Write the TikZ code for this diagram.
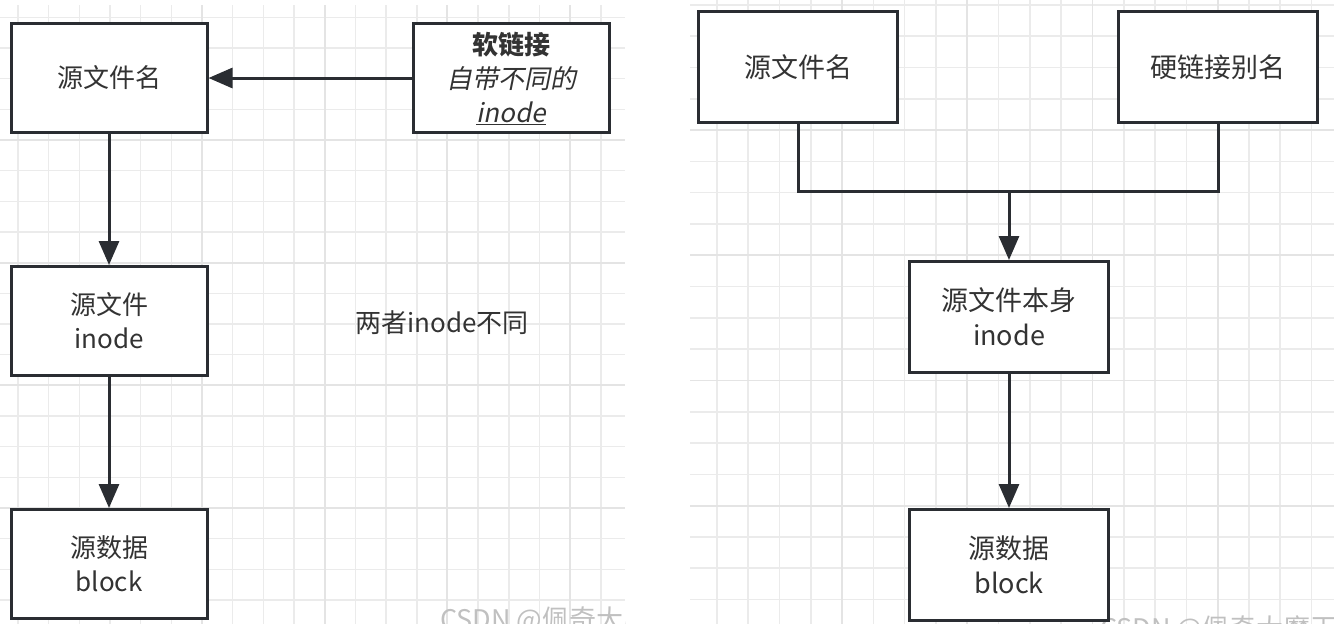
\documentclass[tikz,border=0pt]{standalone}
\usepackage{fontspec}
\usepackage{tikz}
\usetikzlibrary{positioning,arrows.meta}
\newfontfamily\cjk{Noto Sans CJK SC}
\newfontfamily\cjkit{Noto Sans CJK SC}[FakeSlant=0.2]
\definecolor{boxline}{RGB}{42,45,50}
\definecolor{txt}{RGB}{51,51,51}
\definecolor{gridminor}{RGB}{235,235,235}
\definecolor{gridmajor}{RGB}{228,228,228}
\definecolor{mark}{RGB}{192,192,192}

\begin{document}
\begin{tikzpicture}[x=1pt, y=-1pt,
    every node/.style={font=\cjk\fontsize{26}{34}\selectfont, text=txt, align=center, inner sep=0pt},
    box/.style={draw=boxline, fill=white, line width=3pt, minimum width=196pt, minimum height=109pt},
    bigbox/.style={box, minimum width=199pt, minimum height=111pt, font=\cjk\fontsize{27}{35}\selectfont},
    link/.style={draw=boxline, line width=3pt},
    arrow/.style={link, -{Triangle[length=24pt, width=20pt]}},
    wmark/.style={anchor=base west, text=mark, font=\cjk\fontsize{27}{27}\selectfont}]
    \useasboundingbox (0,0) rectangle (1334,624);

    \foreach \k [evaluate=\k as \gx using {18+\k*30.67}, evaluate=\k as \gy using {17.3+\k*30.67}] in {0,...,19} {
        \draw[gridminor, line width=1.6pt] (\gx,5) -- (\gx,624);
        \draw[gridminor, line width=1.6pt] (0,\gy) -- (625,\gy);
    }
    \foreach \k [evaluate=\k as \gx using {18+(\k+2)*30.67}, evaluate=\k as \gy using {17.3+\k*30.67}] in {4,8,12,16} {
        \draw[gridmajor, line width=1.8pt] (\gx,5) -- (\gx,624);
        \draw[gridmajor, line width=1.8pt] (0,\gy) -- (625,\gy);
    }
    \foreach \k [evaluate=\k as \gx using {716.8+\k*31.3}, evaluate=\k as \gy using {4.8+\k*31.3}] in {0,...,19} {
        \draw[gridminor, line width=1.6pt] (\gx,0) -- (\gx,624);
        \draw[gridminor, line width=1.6pt] (690,\gy) -- (1334,\gy);
    }
    \foreach \k [evaluate=\k as \gx using {716.8+\k*31.3}, evaluate=\k as \gy using {4.8+\k*31.3}] in {4,8,12,16} {
        \draw[gridmajor, line width=1.8pt] (\gx,0) -- (\gx,624);
        \draw[gridmajor, line width=1.8pt] (690,\gy) -- (1334,\gy);
    }

    \begin{scope}
        \clip (0,0) rectangle (625,624);
        \node[wmark] (markleft) at (440,629) {CSDN @佩奇大魔王};
    \end{scope}
    \node[wmark] (markright) at (1100,638) {CSDN @佩奇大魔王};

    \node[box] (srcname) at (109,78) {源文件名};
    \node[box] (softlink) at (511,78) {{\bfseries 软链接}\\{\cjkit 自带不同的}\\{\cjkit\underline{inode}}};
    \node[box] (srcinode) at (109,321) {源文件\\inode};
    \node[box] (srcdata) at (109,564) {源数据\\block};
    \node (differ) at (442,323) {两者inode不同};
    \draw[arrow] (softlink) -- (srcname);
    \draw[arrow] (srcname) -- (srcinode);
    \draw[arrow] (srcinode) -- (srcdata);

    \node[bigbox] (hardname) at (798,67) {源文件名};
    \node[bigbox] (hardalias) at (1218,67) {硬链接别名};
    \node[bigbox] (hardinode) at (1009,317) {源文件本身\\inode};
    \node[bigbox] (harddata) at (1009,565) {源数据\\block};
    \coordinate (join) at (1009,191);
    \draw[link] (hardname.south) |- (join) -| (hardalias.south);
    \draw[arrow] (join) -- (hardinode);
    \draw[arrow] (hardinode) -- (harddata);
\end{tikzpicture}
\end{document}
